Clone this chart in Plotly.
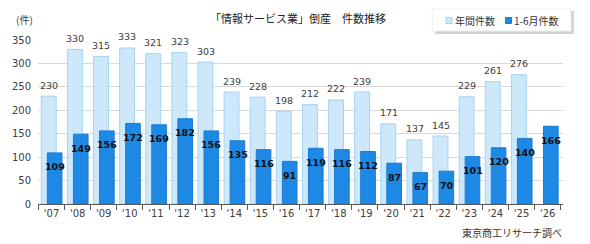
import plotly.graph_objects as go

years = ["'07", "'08", "'09", "'10", "'11", "'12", "'13", "'14", "'15", "'16",
         "'17", "'18", "'19", "'20", "'21", "'22", "'23", "'24", "'25", "'26"]
annual = [230, 330, 315, 333, 321, 323, 303, 239, 228, 198,
          212, 222, 239, 171, 137, 145, 229, 261, 276, None]
jan_jun = [109, 149, 156, 172, 169, 182, 156, 135, 116, 91,
           119, 116, 112, 87, 67, 70, 101, 120, 140, 166]
y_ticks = [0, 50, 100, 150, 200, 250, 300, 350]

W, H = 590, 244
L, R, T, B = 33, 27, 40, 40
PW, PH = W - L - R, H - T - B


def px(x):
    return (x - L) / PW


def py(y):
    return (H - B - y) / PH


LIGHT = "#CDE8FB"
LIGHT_LINE = "#A6D3F2"
DARK = "#1E88E5"
DARK_LINE = "#1A7BD3"
NUM_FONT = "DejaVu Sans"
JP_FONT = "Noto Sans CJK JP"

fig = go.Figure()
fig.add_trace(go.Bar(
    x=years, y=annual, name="年間件数",
    marker=dict(color=LIGHT, line=dict(color=LIGHT_LINE, width=1)),
    offset=-0.39, width=0.57, showlegend=False,
))
fig.add_trace(go.Bar(
    x=years, y=jan_jun, name="1-6月件数",
    marker=dict(color=DARK, line=dict(color=DARK_LINE, width=1)),
    offset=-0.16, width=0.56, showlegend=False,
))

annotations = []
for yr, v in zip(years, annual):
    if v is None:
        continue
    annotations.append(dict(x=yr, y=v, xref="x", yref="y", text=str(v),
                            showarrow=False, xshift=-2.5, yshift=11,
                            xanchor="center", yanchor="middle",
                            font=dict(family=NUM_FONT, size=9.5, color="#404040")))
for yr, v in zip(years, jan_jun):
    annotations.append(dict(x=yr, y=v, xref="x", yref="y", text="<b>%d</b>" % v,
                           showarrow=False, xshift=3.3, yshift=-14,
                           xanchor="center", yanchor="middle",
                           font=dict(family=NUM_FONT, size=9.5, color="#111111")))


def txt(x, y, s, size=10, color="#333333", xanchor="center"):
    return dict(x=px(x), y=py(y), xref="paper", yref="paper", text=s,
                showarrow=False, xanchor=xanchor, yanchor="middle",
                font=dict(family=JP_FONT, size=size, color=color))


annotations.append(txt(295, 18, "「情報サービス業」倒産　件数推移", size=11, color="#222222"))
annotations.append(txt(19, 20, "(件)", color="#404040"))
annotations.append(txt(564, 232, "東京商工リサーチ調べ", xanchor="right"))
annotations.append(txt(452, 20.5, "年間件数", xanchor="left"))
annotations.append(txt(512, 20.5, "1-6月件数", xanchor="left"))

# legend (manual)
shapes = [
    dict(type="rect", xref="paper", yref="paper", x0=px(434), x1=px(574),
         y0=py(11), y1=py(34), fillcolor="rgba(0,0,0,0.18)", line=dict(width=0)),
    dict(type="rect", xref="paper", yref="paper", x0=px(431), x1=px(571),
         y0=py(9), y1=py(31), fillcolor="white", line=dict(color="#EEEEEE", width=1)),
    dict(type="rect", xref="paper", yref="paper", x0=px(445), x1=px(451),
         y0=py(17.5), y1=py(23.5), fillcolor=LIGHT, line=dict(color=LIGHT_LINE, width=1)),
    dict(type="rect", xref="paper", yref="paper", x0=px(505), x1=px(511),
         y0=py(17.5), y1=py(23.5), fillcolor=DARK, line=dict(color=DARK_LINE, width=1)),
]

fig.update_layout(
    width=W, height=H,
    margin=dict(l=L, r=R, t=T, b=B),
    paper_bgcolor="white", plot_bgcolor="white",
    barmode="overlay",
    showlegend=False,
    annotations=annotations,
    shapes=shapes,
    xaxis=dict(
        type="category", showline=True, linecolor="#595959", linewidth=1,
        ticks="outside", tickson="boundaries", ticklen=5, tickcolor="#595959",
        tickfont=dict(family=NUM_FONT, size=10, color="#404040"),
        showgrid=False, fixedrange=True,
    ),
    yaxis=dict(
        range=[0, 350], tickvals=y_ticks, showgrid=True, gridcolor="#D9D9D9",
        zeroline=False, showline=False, ticks="", ticklabelstandoff=6,
        tickfont=dict(family=NUM_FONT, size=10, color="#404040"),
        fixedrange=True,
    ),
)

fig.write_html("out.html")
